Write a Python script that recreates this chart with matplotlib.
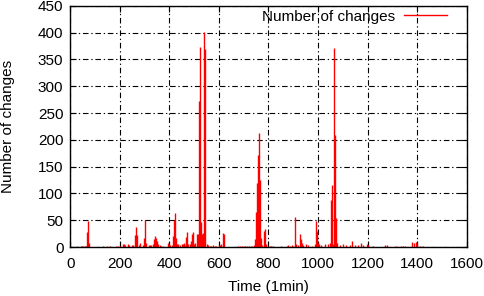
import matplotlib
matplotlib.use("Agg")
import matplotlib.pyplot as plt
from matplotlib.lines import Line2D

# minute of the day and number of changes in that minute
minutes = [28, 43, 48, 53, 58, 63, 67, 71, 76, 130, 147, 160, 183, 192, 200,
           214, 218, 222, 234, 238, 248, 255, 261, 265, 269, 277, 283, 292,
           297, 301, 305, 317, 322, 327, 332, 338, 342, 346, 350, 355, 362,
           368, 375, 393, 397, 403, 409, 416, 420, 424, 428, 432, 436, 443,
           450, 456, 460, 464, 467, 471, 476, 483, 488, 492, 496, 500, 505,
           510, 514, 519, 523, 527, 531, 535, 541, 545, 550, 557, 563, 570,
           577, 584, 590, 600, 604, 609, 616, 620, 676, 685, 692, 700, 706,
           712, 720, 728, 735, 742, 745, 749, 753, 757, 761, 765, 769, 773,
           783, 786, 790, 806, 812, 820, 852, 873, 880, 887, 895, 900, 907,
           913, 918, 927, 931, 935, 940, 951, 960, 974, 987, 993, 997, 1001,
           1005, 1014, 1028, 1041, 1048, 1053, 1057, 1061, 1065, 1069, 1073,
           1077, 1088, 1102, 1115, 1128, 1139, 1148, 1162, 1175, 1182, 1196,
           1203, 1223, 1270, 1277, 1317, 1337, 1344, 1350, 1381, 1386, 1397,
           1401, 1411, 1424]
changes = [2, 2, 2, 2, 2, 2, 28, 48, 8, 2, 2, 2, 2, 2, 2,
           5, 5, 3, 5, 3, 3, 3, 22, 37, 22, 3, 8, 3,
           16, 51, 8, 3, 3, 3, 5, 15, 20, 16, 12, 5, 3,
           2, 2, 8, 5, 3, 3, 20, 50, 63, 17, 5, 5, 3,
           5, 5, 8, 3, 18, 28, 5, 5, 12, 25, 28, 5, 8,
           25, 25, 272, 373, 47, 25, 27, 402, 370, 5, 3, 2, 2,
           3, 2, 2, 3, 3, 5, 27, 24, 2, 2, 2, 2, 2,
           2, 2, 2, 2, 3, 15, 66, 119, 172, 213, 125, 17, 3,
           29, 34, 5, 2, 2, 2, 2, 2, 3, 2, 3, 2, 56,
           5, 3, 25, 15, 8, 3, 5, 3, 2, 5, 49, 30, 8,
           5, 3, 5, 5, 8, 87, 116, 5, 372, 209, 54,
           8, 3, 5, 3, 3, 12, 3, 3, 8, 3, 5,
           3, 2, 3, 3, 2, 2, 2, 2, 10, 8, 10,
           5, 2, 2]

xticks = list(range(0, 1601, 200))
yticks = list(range(0, 451, 50))

plt.rcParams['font.family'] = ['Liberation Sans', 'DejaVu Sans']
plt.rcParams['font.size'] = 11

fig = plt.figure(figsize=(4.85, 2.96), dpi=100)
ax = fig.add_axes([0.145, 0.1655, 0.817, 0.8145])

ax.vlines(minutes, 0, changes, color='red', lw=1.0)

ax.set_xlim(0, 1600)
ax.set_ylim(0, 450)
ax.set_xticks(xticks)
ax.set_yticks(yticks)
ax.grid(True, color='black', lw=0.8, linestyle=(0, (5, 2.5, 1.2, 2.5)))
ax.tick_params(direction='in', length=4, top=True, right=True, pad=5)
ax.tick_params(axis='x', pad=7)
for s in ax.spines.values():
    s.set_linewidth(1.0)

ax.set_xlabel("Time (1min)")
ax.set_ylabel("Number of changes")
ax.xaxis.set_label_coords(0.5, -0.166)
ax.yaxis.set_label_coords(-0.157, 0.5)
ax.xaxis.label.set_va('center')
ax.yaxis.label.set_va('center')

leg = ax.legend([Line2D([0], [0], color='red', lw=1.0)], ["Number of changes"],
                loc='upper right', bbox_to_anchor=(0.95, 0.985), frameon=False,
                markerfirst=False, handlelength=2.8, borderpad=0,
                borderaxespad=0, handletextpad=0.6)

fig.savefig("out.png", dpi=100)
